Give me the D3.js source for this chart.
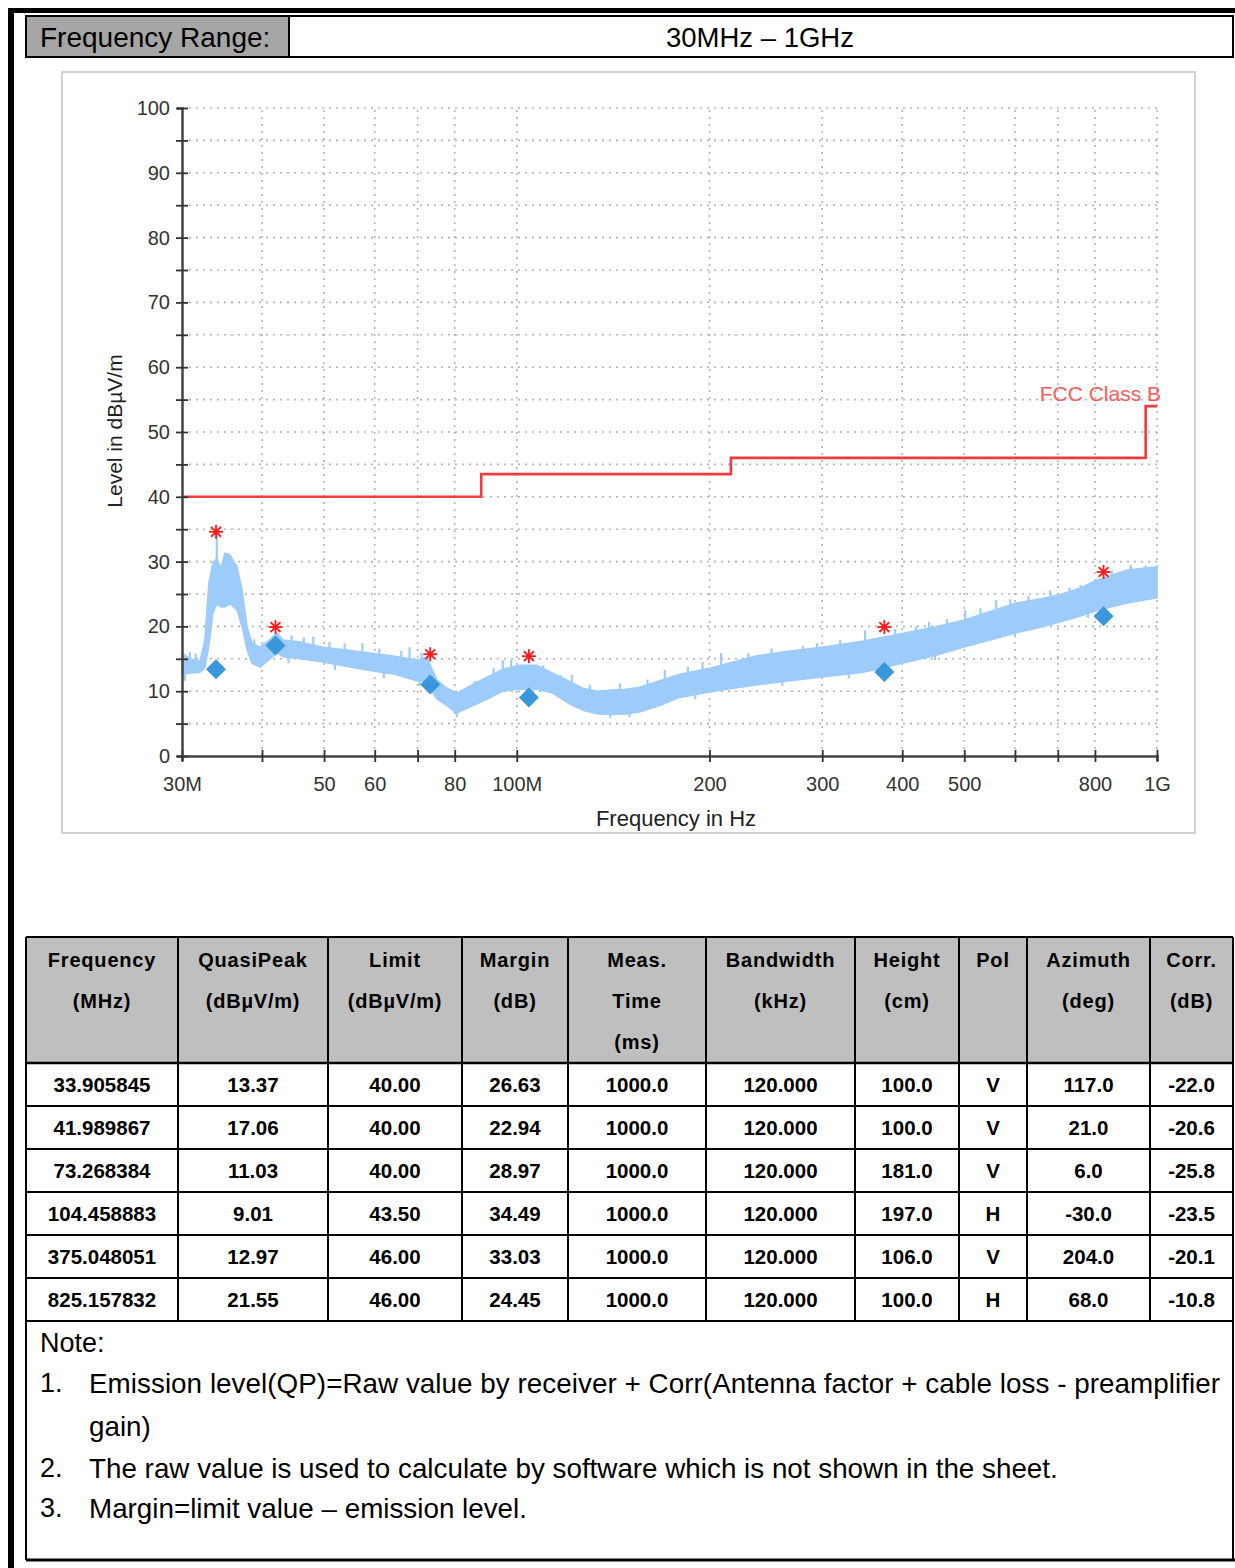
<!DOCTYPE html>
<html><head><meta charset="utf-8">
<script src="https://cdn.jsdelivr.net/npm/d3@7/dist/d3.min.js"></script>
<style>
body{margin:0;background:#fff;}
text{font-family:"Liberation Sans",Arial,Helvetica,sans-serif;}
</style>
</head><body>
<svg id="c" width="1235" height="1568"></svg>
<script>
// ---------- DATA ----------
// Spectrum envelope (MHz, dBuV/m)
const specFreq   = [30.0,30.87,31.99,32.57,33.04,33.52,34.0,34.5,35.0,35.66,36.57,37.24,37.91,38.6,39.73,41.19,42.24,43.16,45.88,49.76,53.85,58.93,64.43,69.77,72.32,75.0,77.7,80.6,84.5,89.2,95.1,101.0,107.4,113.8,121.0,127.3,133.9,140.7,147.9,155.6,167.2,179.1,201,219.3,238.1,267.2,299.8,346.2,376.4,400,450.3,499.8,548.9,602.9,652.6,700.9,753,809,898.7,1000];
const specTop    = [15.9,15.0,14.6,17.9,26.7,29.8,30.5,29.0,31.3,31.0,29.2,25.6,19.9,17.4,16.8,18.0,19.0,17.9,17.6,16.8,16.4,15.9,15.4,14.8,15.3,11.8,10.5,9.7,10.8,12.0,13.4,14.0,14.0,12.8,11.5,10.4,10.0,10.2,10.3,10.6,11.6,12.6,13.6,14.6,15.5,16.2,16.8,17.7,18.4,18.9,19.9,21.0,22.3,23.6,24.2,24.8,25.8,27.2,28.7,29.2];
const specBottom = [12.5,12.8,12.9,13.6,17.0,22.0,23.5,23.0,23.0,23.5,22.5,19.9,16.4,14.3,13.7,15.0,15.9,15.3,15.0,14.5,13.9,13.2,12.6,11.6,11.5,8.8,7.8,6.6,7.6,8.6,10.0,10.3,10.3,9.7,8.0,7.0,6.5,6.4,6.5,6.8,7.8,9.0,9.9,10.5,11.0,11.6,12.2,12.9,13.7,14.3,15.5,16.8,17.9,19.0,19.8,20.6,21.5,22.5,23.6,24.4];
// narrow noise spikes above the band and dips below it
const spikeFreq  = [30.87,31.5,34.0,35.4,38.9,40.5,44.5,46.5,48.1,51,53.85,57.4,61,66,68.0,71,72.8,86,92,95.1,98,110,117,121.9,130,145,160,170.3,185,195,208.5,230,250,280,294.4,320,350,390,420,440.6,470,501.6,530,560.9,590,630,680.9,730,760,850,910,960];
const spikeLevel = [16.0,15.8,34.6,31.3,18.0,17.5,18.6,18.3,18.4,17.6,17.4,17.4,16.6,16.2,16.8,15.9,16.2,11.6,13.6,14.8,14.8,14.0,12.5,12.5,11.0,11.2,11.8,13.3,13.8,14.5,15.9,15.9,16.6,17.0,17.4,17.9,19.4,19.6,20.0,20.7,21.1,22.5,22.8,24.1,24.2,24.7,25.6,26.0,26.4,28.6,29.5,29.4];
const dipFreq    = [30.3,44,52,62,70.5,80.6,140,150,190,260,330,450,600,780];
const dipLevel   = [11.6,14.3,13.3,12.0,10.8,6.0,5.8,6.0,8.8,10.8,12.0,14.8,18.3,21.3];

// Limit line FCC Class B
const limitFreq  = [30,88,88,216,216,960,960,1000];
const limitLevel = [40,40,43.5,43.5,46,46,54,54];

// Markers
const markFreq  = [33.905845,41.989867,73.268384,104.458883,375.048051,825.157832];
const qpLevel   = [13.37,17.06,11.03,9.01,12.97,21.55];
const peakLevel = [34.6,19.9,15.7,15.4,19.9,28.4];

// Axis ticks
const xTickVals  = [30,40,50,60,70,80,100,200,300,400,500,600,700,800,1000];
const xTickLabel = {30:"30M",50:"50",60:"60",80:"80",100:"100M",200:"200",300:"300",400:"400",500:"500",800:"800",1000:"1G"};
const yTickVals  = d3.range(0,101,5);

// Table
const headLines = [["Frequency","(MHz)"],["QuasiPeak","(dBµV/m)"],["Limit","(dBµV/m)"],["Margin","(dB)"],["Meas.","Time","(ms)"],["Bandwidth","(kHz)"],["Height","(cm)"],["Pol"],["Azimuth","(deg)"],["Corr.","(dB)"]];
const colFreq   = ["33.905845","41.989867","73.268384","104.458883","375.048051","825.157832"];
const colQP     = ["13.37","17.06","11.03","9.01","12.97","21.55"];
const colLimit  = ["40.00","40.00","40.00","43.50","46.00","46.00"];
const colMargin = ["26.63","22.94","28.97","34.49","33.03","24.45"];
const colTime   = ["1000.0","1000.0","1000.0","1000.0","1000.0","1000.0"];
const colBW     = ["120.000","120.000","120.000","120.000","120.000","120.000"];
const colHeight = ["100.0","100.0","181.0","197.0","106.0","100.0"];
const colPol    = ["V","V","V","H","V","H"];
const colAz     = ["117.0","21.0","6.0","-30.0","204.0","68.0"];
const colCorr   = ["-22.0","-20.6","-25.8","-23.5","-20.1","-10.8"];

const notes = [
  ["Note:",""],
  ["1.","Emission level(QP)=Raw value by receiver + Corr(Antenna factor + cable loss - preamplifier"],
  ["","gain)"],
  ["2.","The raw value is used to calculate by software which is not shown in the sheet."],
  ["3.","Margin=limit value – emission level."]
];

// ---------- DRAW ----------
const svg = d3.select("#c");

// outer page frame
svg.append("rect").attr("x",8).attr("y",8).attr("width",6).attr("height",1560).attr("fill","#000");
svg.append("rect").attr("x",8).attr("y",8).attr("width",1227).attr("height",5).attr("fill","#000");

// Frequency range header
svg.append("rect").attr("x",26).attr("y",16).attr("width",263).attr("height",41).attr("fill","#a6a6a6");
svg.append("rect").attr("x",26).attr("y",16).attr("width",1207).attr("height",41).attr("fill","none").attr("stroke","#000").attr("stroke-width",2);
svg.append("line").attr("x1",289).attr("x2",289).attr("y1",16).attr("y2",57).attr("stroke","#000").attr("stroke-width",2);
svg.append("text").attr("x",40).attr("y",37).attr("dominant-baseline","central").attr("font-size",28).text("Frequency Range:");
svg.append("text").attr("x",760).attr("y",37).attr("dominant-baseline","central").attr("text-anchor","middle").attr("font-size",27.5).text("30MHz – 1GHz");

// chart frame
svg.append("rect").attr("x",62).attr("y",72).attr("width",1133).attr("height",761).attr("fill","#fff").attr("stroke","#d2d2d2").attr("stroke-width",2);

const x = d3.scaleLog().domain([30,1000]).range([182,1157]);
const y = d3.scaleLinear().domain([0,100]).range([756,108]);

// grid
const g = svg.append("g");
g.selectAll(".hg").data(yTickVals.filter(v=>v>0)).join("line")
  .attr("x1",x(30)).attr("x2",x(1000)).attr("y1",d=>y(d)).attr("y2",d=>y(d))
  .attr("stroke","#b4b4b4").attr("stroke-width",1.6).attr("stroke-dasharray","2,5");
g.selectAll(".vg").data(xTickVals.filter(v=>v>30)).join("line")
  .attr("x1",d=>x(d)).attr("x2",d=>x(d)).attr("y1",y(0)).attr("y2",y(100))
  .attr("stroke","#b4b4b4").attr("stroke-width",1.6).attr("stroke-dasharray","2,5");

// spectrum band
const bandCol = "#9dcbfa";
const spec = specFreq.map((f,i)=>({f,t:specTop[i],b:specBottom[i]}));
svg.append("path").datum(spec)
  .attr("d",d3.area().x(d=>x(d.f)).y0(d=>y(d.b)).y1(d=>y(d.t)))
  .attr("fill",bandCol).attr("stroke",bandCol).attr("stroke-width",1.5);
const envAt = (f,key) => {
  const i = d3.bisector(d=>d.f).right(spec,f);
  const a = spec[Math.max(0,i-1)], b = spec[Math.min(spec.length-1,i)];
  if (a===b) return a[key];
  const k = (Math.log(f)-Math.log(a.f))/(Math.log(b.f)-Math.log(a.f));
  return a[key] + k*(b[key]-a[key]);
};
svg.selectAll(".spk").data(spikeFreq.map((f,i)=>({f,v:spikeLevel[i]}))).join("line")
  .attr("x1",d=>x(d.f)).attr("x2",d=>x(d.f))
  .attr("y1",d=>y(d.v)).attr("y2",d=>y(Math.min(d.v,envAt(d.f,"t"))-0.5))
  .attr("stroke",bandCol).attr("stroke-width",2.2);
svg.selectAll(".dip").data(dipFreq.map((f,i)=>({f,v:dipLevel[i]}))).join("line")
  .attr("x1",d=>x(d.f)).attr("x2",d=>x(d.f))
  .attr("y1",d=>y(d.v)).attr("y2",d=>y(Math.max(d.v,envAt(d.f,"b"))+0.5))
  .attr("stroke",bandCol).attr("stroke-width",2.2);

// limit line
svg.append("path").datum(limitFreq.map((f,i)=>[f,limitLevel[i]]))
  .attr("d",d3.line().x(d=>x(d[0])).y(d=>y(d[1])))
  .attr("fill","none").attr("stroke","#f03c3c").attr("stroke-width",2.6);
svg.append("text").attr("x",1161).attr("y",401).attr("text-anchor","end").attr("font-size",21)
  .attr("fill","#ff5a5a").text("FCC Class B");

// axes
const xAxis = d3.axisBottom(x).tickValues(xTickVals).tickFormat(d=>xTickLabel[d]||"").tickSize(5).tickPadding(16);
const ax = svg.append("g").attr("transform",`translate(0,${y(0)})`).call(xAxis);
ax.select(".domain").attr("stroke","#444").attr("stroke-width",2.5);
ax.selectAll(".tick line").attr("y1",-6).attr("y2",6).attr("stroke","#333").attr("stroke-width",1.8);
ax.selectAll(".tick text").attr("font-size",20).attr("fill","#333").attr("font-family","Liberation Sans, Arial, sans-serif");

const yAxis = d3.axisLeft(y).tickValues(yTickVals).tickFormat(d=>d%10===0?d:"").tickSize(5).tickPadding(7);
const ay = svg.append("g").attr("transform",`translate(${x(30)},0)`).call(yAxis);
ay.select(".domain").attr("stroke","#444").attr("stroke-width",2.5);
ay.selectAll(".tick line").attr("x1",-6).attr("x2",6).attr("stroke","#333").attr("stroke-width",1.8);
ay.selectAll(".tick text").attr("font-size",20).attr("fill","#333").attr("font-family","Liberation Sans, Arial, sans-serif");

// axis titles
svg.append("text").attr("x",676).attr("y",826).attr("text-anchor","middle").attr("font-size",22).attr("fill","#222").text("Frequency in Hz");
svg.append("text").attr("transform","translate(122,431) rotate(-90)").attr("text-anchor","middle").attr("font-size",21).attr("fill","#222").text("Level in dBµV/m");

// markers: diamonds (QP) and stars (peak)
const mk = markFreq.map((f,i)=>({f,q:qpLevel[i],p:peakLevel[i]}));
svg.selectAll(".dia").data(mk).join("path")
  .attr("transform",d=>`translate(${x(d.f)},${y(d.q)})`)
  .attr("d","M0,-10L10,0L0,10L-10,0Z").attr("fill","#3a97dc");
const star = svg.selectAll(".star").data(mk).join("g")
  .attr("transform",d=>`translate(${x(d.f)},${y(d.p)})`);
[0,45,90,135].forEach(a=>{
  star.append("line").attr("x1",-7).attr("x2",7).attr("y1",0).attr("y2",0)
    .attr("transform",`rotate(${a})`).attr("stroke","#ff1a1a").attr("stroke-width",1.8);
});
star.append("circle").attr("r",2.5).attr("fill","#ff1a1a");

// ---------- TABLE ----------
const colX = [26,178,328,462,568,706,855,959,1027,1150,1233];
const cols = [colFreq,colQP,colLimit,colMargin,colTime,colBW,colHeight,colPol,colAz,colCorr];
const headTop = 937, headBot = 1063, rowH = 43;
const nRows = colFreq.length;
const tableBot = headBot + nRows*rowH;

svg.append("rect").attr("x",26).attr("y",headTop).attr("width",1207).attr("height",headBot-headTop).attr("fill","#bfbfbf");
const hLines = [headTop, headBot].concat(d3.range(1,nRows+1).map(i=>headBot+i*rowH));
svg.selectAll(".thl").data(hLines).join("line")
  .attr("x1",26).attr("x2",1233).attr("y1",d=>d).attr("y2",d=>d).attr("stroke","#000").attr("stroke-width",d=>d===headBot?2.5:2);
svg.selectAll(".tvl").data(colX).join("line")
  .attr("x1",d=>d).attr("x2",d=>d).attr("y1",headTop).attr("y2",tableBot).attr("stroke","#000").attr("stroke-width",2);

headLines.forEach((lines,ci)=>{
  const cx = (colX[ci]+colX[ci+1])/2;
  lines.forEach((t,li)=>{
    svg.append("text").attr("x",cx).attr("y",960+li*41).attr("text-anchor","middle").attr("dominant-baseline","central")
      .attr("font-size",20).attr("font-weight","bold").attr("letter-spacing",0.8).text(t);
  });
});
cols.forEach((col,ci)=>{
  const cx = (colX[ci]+colX[ci+1])/2;
  col.forEach((t,ri)=>{
    svg.append("text").attr("x",cx).attr("y",headBot+ri*rowH+rowH/2).attr("text-anchor","middle").attr("dominant-baseline","central")
      .attr("font-size",20.5).attr("font-weight","bold").text(t);
  });
});

// ---------- NOTES ----------
svg.append("line").attr("x1",26).attr("x2",26).attr("y1",tableBot).attr("y2",1560).attr("stroke","#000").attr("stroke-width",2);
svg.append("line").attr("x1",1233).attr("x2",1233).attr("y1",tableBot).attr("y2",1560).attr("stroke","#000").attr("stroke-width",2);
svg.append("line").attr("x1",26).attr("x2",1235).attr("y1",1560).attr("y2",1560).attr("stroke","#000").attr("stroke-width",3);
const noteY = [1343,1383,1426,1468,1508];
notes.forEach((n,i)=>{
  if (n[0]) svg.append("text").attr("x",40).attr("y",noteY[i]).attr("dominant-baseline","central").attr("font-size",27).text(n[0]);
  if (n[1]) {
    const t = svg.append("text").attr("x",89).attr("y",noteY[i]).attr("dominant-baseline","central").attr("font-size",27.8).text(n[1]);
    if (i===1) t.attr("textLength",1131).attr("lengthAdjust","spacing");
  }
});
</script>
</body></html>
